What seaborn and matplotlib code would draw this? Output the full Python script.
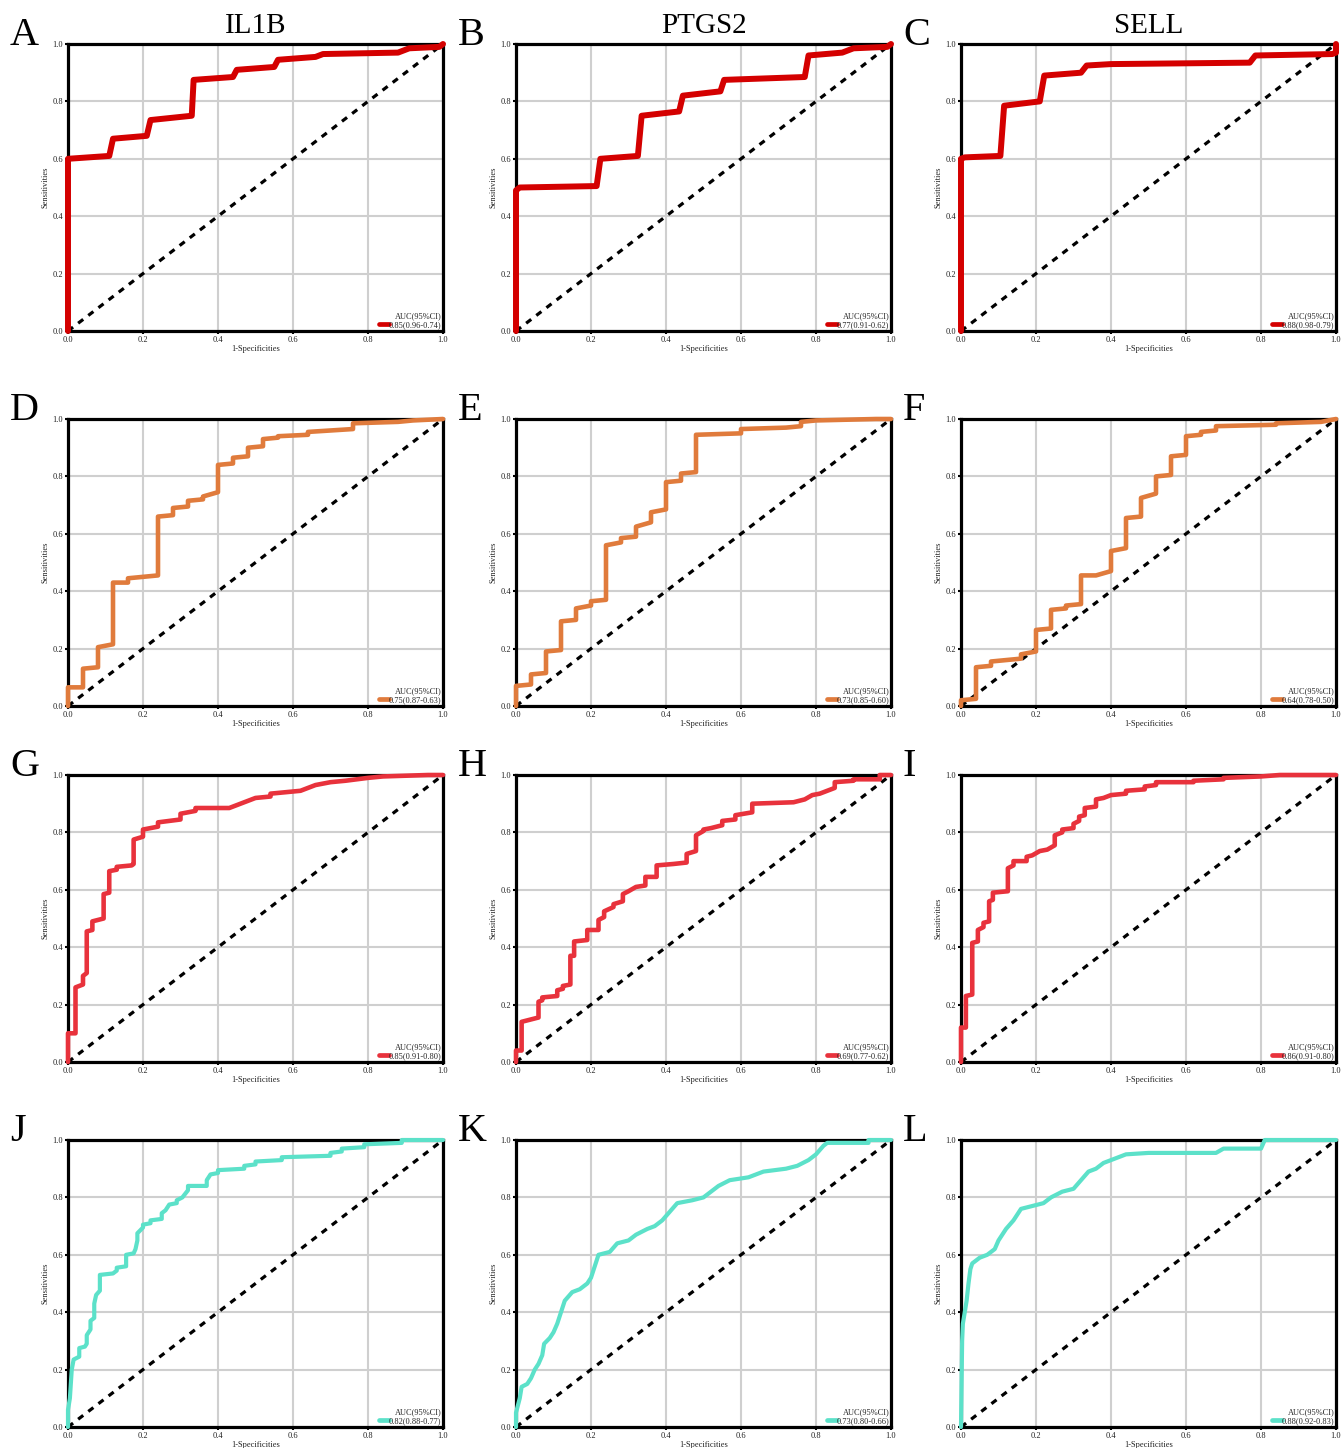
import matplotlib
matplotlib.use("Agg")
import matplotlib.pyplot as plt
from matplotlib.lines import Line2D
import seaborn as sns

# ---------------- data ----------------
genes = ["IL1B", "PTGS2", "SELL"]
panel_letters = ["A", "B", "C", "D", "E", "F", "G", "H", "I", "J", "K", "L"]
auc_labels = ["0.85(0.96-0.74)", "0.77(0.91-0.62)", "0.88(0.98-0.79)",
              "0.75(0.87-0.63)", "0.73(0.85-0.60)", "0.64(0.78-0.50)",
              "0.85(0.91-0.80)", "0.69(0.77-0.62)", "0.86(0.91-0.80)",
              "0.82(0.88-0.77)", "0.73(0.80-0.66)", "0.88(0.92-0.83)"]
row_colors = ["#d40000", "#e07b3c", "#e8323c", "#5ce1c9"]
row_linewidths = [4.3, 3.3, 3.3, 3.0]
tick_values = [0.0, 0.2, 0.4, 0.6, 0.8, 1.0]
tick_labels = ["0.0", "0.2", "0.4", "0.6", "0.8", "1.0"]
diag = [0.0, 1.0]

roc_A = [(0, 0), (0, 0.60), (0.11, 0.61), (0.12, 0.67), (0.21, 0.68), (0.22, 0.735),
         (0.33, 0.75), (0.335, 0.875), (0.44, 0.885), (0.45, 0.91), (0.55, 0.92),
         (0.56, 0.945), (0.66, 0.955), (0.68, 0.965), (0.88, 0.97), (0.91, 0.985),
         (0.99, 0.99), (1.0, 1.0)]
roc_B = [(0, 0), (0, 0.49), (0.01, 0.50), (0.215, 0.505), (0.225, 0.60), (0.325, 0.61),
         (0.335, 0.75), (0.435, 0.765), (0.445, 0.82), (0.545, 0.835), (0.555, 0.875),
         (0.77, 0.885), (0.78, 0.96), (0.87, 0.97), (0.90, 0.985), (0.99, 0.99), (1.0, 1.0)]
roc_C = [(0, 0), (0, 0.60), (0.01, 0.605), (0.105, 0.61), (0.115, 0.785), (0.21, 0.80),
         (0.222, 0.89), (0.32, 0.90), (0.335, 0.925), (0.40, 0.93), (0.77, 0.935),
         (0.785, 0.96), (0.99, 0.965), (1.0, 0.97), (1.0, 1.0)]
roc_D = [(0, 0), (0, 0.065), (0.04, 0.065), (0.04, 0.13), (0.08, 0.135), (0.08, 0.205),
         (0.12, 0.215), (0.12, 0.43), (0.16, 0.43), (0.16, 0.445), (0.24, 0.455), (0.24, 0.66),
         (0.28, 0.665), (0.28, 0.69), (0.32, 0.695), (0.32, 0.715), (0.36, 0.72), (0.36, 0.73),
         (0.40, 0.745), (0.40, 0.84), (0.44, 0.845), (0.44, 0.865), (0.48, 0.87), (0.48, 0.90),
         (0.52, 0.905), (0.52, 0.93), (0.56, 0.935), (0.56, 0.94), (0.64, 0.945), (0.64, 0.955),
         (0.76, 0.965), (0.76, 0.985), (0.88, 0.99), (0.92, 0.995), (1.0, 1.0)]
roc_E = [(0, 0), (0, 0.07), (0.04, 0.075), (0.04, 0.11), (0.08, 0.115), (0.08, 0.19),
         (0.12, 0.195), (0.12, 0.295), (0.16, 0.30), (0.16, 0.34), (0.20, 0.35), (0.20, 0.365),
         (0.24, 0.37), (0.24, 0.56), (0.28, 0.57), (0.28, 0.585), (0.32, 0.59), (0.32, 0.625),
         (0.36, 0.64), (0.36, 0.675), (0.40, 0.685), (0.40, 0.78), (0.44, 0.785), (0.44, 0.81),
         (0.48, 0.815), (0.48, 0.945), (0.60, 0.95), (0.60, 0.965), (0.72, 0.97), (0.76, 0.975),
         (0.76, 0.99), (0.80, 0.995), (0.96, 1.0), (1.0, 1.0)]
roc_F = [(0, 0), (0, 0.02), (0.04, 0.025), (0.04, 0.135), (0.08, 0.14), (0.08, 0.155),
         (0.16, 0.165), (0.16, 0.18), (0.20, 0.19), (0.20, 0.265), (0.24, 0.27), (0.24, 0.335),
         (0.28, 0.34), (0.28, 0.35), (0.32, 0.355), (0.32, 0.455), (0.36, 0.455), (0.40, 0.47),
         (0.40, 0.54), (0.44, 0.55), (0.44, 0.655), (0.48, 0.66), (0.48, 0.725), (0.52, 0.74),
         (0.52, 0.80), (0.56, 0.805), (0.56, 0.87), (0.60, 0.875), (0.60, 0.94), (0.64, 0.945),
         (0.64, 0.955), (0.68, 0.96), (0.68, 0.975), (0.84, 0.98), (0.84, 0.985), (0.96, 0.99),
         (1.0, 1.0)]
roc_G = [(0, 0), (0, 0.10), (0.02, 0.10), (0.02, 0.26), (0.04, 0.27), (0.04, 0.30),
         (0.05, 0.31), (0.05, 0.455), (0.065, 0.46), (0.065, 0.49), (0.095, 0.50), (0.095, 0.585),
         (0.11, 0.59), (0.11, 0.665), (0.13, 0.67), (0.13, 0.68), (0.17, 0.685), (0.175, 0.69),
         (0.175, 0.775), (0.2, 0.785), (0.2, 0.81), (0.24, 0.82), (0.24, 0.835), (0.30, 0.845),
         (0.30, 0.865), (0.34, 0.875), (0.34, 0.885), (0.43, 0.885), (0.46, 0.90), (0.48, 0.91),
         (0.50, 0.92), (0.54, 0.925), (0.54, 0.935), (0.58, 0.94), (0.62, 0.945), (0.64, 0.955),
         (0.66, 0.965), (0.70, 0.975), (0.74, 0.98), (0.80, 0.99), (0.84, 0.995), (0.96, 1.0),
         (1.0, 1.0)]
roc_H = [(0, 0), (0, 0.04), (0.015, 0.04), (0.015, 0.14), (0.06, 0.155), (0.06, 0.21),
         (0.07, 0.215), (0.07, 0.225), (0.11, 0.23), (0.11, 0.25), (0.125, 0.255), (0.125, 0.265),
         (0.145, 0.27), (0.145, 0.37), (0.155, 0.37), (0.155, 0.42), (0.19, 0.425), (0.19, 0.46),
         (0.22, 0.46), (0.22, 0.495), (0.235, 0.505), (0.235, 0.525), (0.26, 0.54), (0.26, 0.55),
         (0.285, 0.56), (0.285, 0.585), (0.30, 0.595), (0.32, 0.61), (0.345, 0.615), (0.345, 0.645),
         (0.375, 0.645), (0.375, 0.685), (0.42, 0.69), (0.455, 0.695), (0.455, 0.725), (0.48, 0.735),
         (0.48, 0.79), (0.50, 0.805), (0.50, 0.81), (0.52, 0.815), (0.55, 0.825), (0.55, 0.84),
         (0.585, 0.845), (0.585, 0.86), (0.63, 0.87), (0.63, 0.90), (0.74, 0.905), (0.77, 0.915),
         (0.79, 0.93), (0.81, 0.935), (0.83, 0.945), (0.85, 0.955), (0.85, 0.975), (0.90, 0.98),
         (0.90, 0.985), (0.97, 0.985), (0.97, 1.0), (1.0, 1.0)]
roc_I = [(0, 0), (0, 0.12), (0.013, 0.12), (0.013, 0.23), (0.03, 0.235), (0.03, 0.415),
         (0.045, 0.42), (0.045, 0.46), (0.06, 0.47), (0.06, 0.485), (0.075, 0.49), (0.075, 0.56),
         (0.085, 0.565), (0.085, 0.59), (0.125, 0.595), (0.125, 0.675), (0.14, 0.685), (0.14, 0.70),
         (0.175, 0.70), (0.175, 0.715), (0.19, 0.72), (0.21, 0.735), (0.23, 0.74), (0.25, 0.755),
         (0.25, 0.79), (0.27, 0.80), (0.27, 0.81), (0.30, 0.815), (0.30, 0.83), (0.315, 0.84),
         (0.315, 0.855), (0.33, 0.86), (0.33, 0.885), (0.36, 0.89), (0.36, 0.915), (0.38, 0.92),
         (0.40, 0.93), (0.44, 0.935), (0.44, 0.945), (0.49, 0.95), (0.49, 0.96), (0.52, 0.965),
         (0.52, 0.975), (0.62, 0.975), (0.62, 0.98), (0.70, 0.985), (0.70, 0.99), (0.80, 0.995),
         (0.85, 1.0), (1.0, 1.0)]
roc_J = [(0, 0), (0, 0.06), (0.005, 0.10), (0.01, 0.20), (0.015, 0.235), (0.03, 0.245),
         (0.03, 0.275), (0.045, 0.28), (0.05, 0.29), (0.05, 0.32), (0.06, 0.34), (0.06, 0.37),
         (0.07, 0.38), (0.07, 0.43), (0.075, 0.46), (0.085, 0.475), (0.085, 0.53), (0.12, 0.535),
         (0.13, 0.545), (0.13, 0.555), (0.155, 0.56), (0.155, 0.60), (0.175, 0.605), (0.18, 0.62),
         (0.185, 0.65), (0.185, 0.675), (0.20, 0.695), (0.20, 0.705), (0.22, 0.71), (0.22, 0.72),
         (0.25, 0.725), (0.25, 0.745), (0.26, 0.755), (0.27, 0.775), (0.29, 0.78), (0.29, 0.79),
         (0.305, 0.80), (0.32, 0.825), (0.32, 0.84), (0.37, 0.84), (0.37, 0.86), (0.38, 0.88),
         (0.40, 0.885), (0.40, 0.895), (0.47, 0.90), (0.47, 0.91), (0.50, 0.915), (0.50, 0.925),
         (0.57, 0.93), (0.57, 0.94), (0.70, 0.945), (0.70, 0.955), (0.73, 0.96), (0.73, 0.97),
         (0.79, 0.975), (0.79, 0.985), (0.89, 0.99), (0.89, 1.0), (1.0, 1.0)]
roc_K = [(0, 0), (0, 0.05), (0.01, 0.10), (0.015, 0.14), (0.03, 0.15), (0.04, 0.17),
         (0.05, 0.20), (0.06, 0.22), (0.07, 0.25), (0.075, 0.29), (0.09, 0.31), (0.10, 0.33),
         (0.11, 0.36), (0.12, 0.40), (0.13, 0.44), (0.15, 0.47), (0.17, 0.48), (0.19, 0.50),
         (0.20, 0.52), (0.21, 0.56), (0.22, 0.60), (0.25, 0.61), (0.27, 0.64), (0.30, 0.65),
         (0.32, 0.67), (0.35, 0.69), (0.37, 0.70), (0.39, 0.72), (0.41, 0.75), (0.43, 0.78),
         (0.47, 0.79), (0.50, 0.80), (0.52, 0.82), (0.54, 0.84), (0.57, 0.86), (0.62, 0.87),
         (0.66, 0.89), (0.72, 0.90), (0.75, 0.91), (0.78, 0.93), (0.80, 0.95), (0.82, 0.98),
         (0.83, 0.99), (0.94, 0.99), (0.94, 1.0), (1.0, 1.0)]
roc_L = [(0, 0), (0.003, 0.30), (0.005, 0.36), (0.01, 0.40), (0.015, 0.44), (0.02, 0.50),
         (0.025, 0.55), (0.03, 0.57), (0.05, 0.59), (0.07, 0.60), (0.09, 0.62), (0.10, 0.65),
         (0.12, 0.69), (0.14, 0.72), (0.16, 0.76), (0.19, 0.77), (0.22, 0.78), (0.24, 0.80),
         (0.27, 0.82), (0.30, 0.83), (0.32, 0.86), (0.34, 0.89), (0.36, 0.90), (0.38, 0.92),
         (0.40, 0.93), (0.42, 0.94), (0.44, 0.95), (0.50, 0.955), (0.68, 0.955), (0.70, 0.97),
         (0.80, 0.97), (0.81, 1.0), (1.0, 1.0)]

rocs = [roc_A, roc_B, roc_C, roc_D, roc_E, roc_F, roc_G, roc_H, roc_I, roc_J, roc_K, roc_L]

# ---------------- style ----------------
sns.set_theme(style="white")
plt.rcParams["font.family"] = ["Liberation Serif", "DejaVu Serif"]

W, H = 1343, 1448
fig = plt.figure(figsize=(W / 100, H / 100), dpi=100)

col_left = [68, 516, 961]
row_top = [44, 419, 775, 1140]
aw, ah = 375, 287
small = 6.0

for idx, pts in enumerate(rocs):
    r, c = divmod(idx, 3)
    left, top = col_left[c], row_top[r]
    ax = fig.add_axes([left / W, 1 - (top + ah) / H, aw / W, ah / H])
    ax.set_xlim(0, 1)
    ax.set_ylim(0, 1)
    ax.set_axisbelow(True)
    ax.grid(True, color="#cfcfcf", linewidth=1.5)

    ax.plot(diag, diag, color="black", linestyle=(0, (2.0, 2.0)), linewidth=2.3,
            zorder=2)
    xs = [p[0] for p in pts]
    ys = [p[1] for p in pts]
    sns.lineplot(x=xs, y=ys, sort=False, estimator=None, ax=ax,
                 color=row_colors[r], linewidth=row_linewidths[r], legend=False,
                 zorder=3, clip_on=False, solid_joinstyle="round",
                 solid_capstyle="round")

    for sp in ax.spines.values():
        sp.set_visible(True)
        sp.set_color("black")
        sp.set_linewidth(2.3)
        sp.set_zorder(2.5)

    ax.set_xticks(tick_values)
    ax.set_xticklabels(tick_labels)
    ax.set_yticks(tick_values)
    ax.set_yticklabels(tick_labels)
    ax.tick_params(axis="both", which="both", direction="out", length=2.0,
                   width=1.5, color="black", labelsize=small, pad=1.5,
                   bottom=True, left=True, labelcolor="#222222")
    ax.set_xlabel("1-Specificities", fontsize=small, labelpad=1.0, color="#222222")
    ax.set_ylabel("Sensitivities", fontsize=small, labelpad=2, color="#222222")

    handle = Line2D([], [], color=row_colors[r], linewidth=3.4)
    leg = ax.legend(handles=[handle], labels=[auc_labels[idx]], title="AUC(95%CI)",
                    loc="lower right", frameon=False, fontsize=small, title_fontsize=small,
                    handlelength=1.2, handletextpad=0.0, borderaxespad=0.1,
                    borderpad=0.1, labelspacing=0.1)
    leg._legend_box.align = "right"

    # panel letter
    fig.text((left - 58) / W, 1 - (top + 1) / H, panel_letters[idx], fontsize=29,
             ha="left", va="baseline", color="black")
    if r == 0:
        fig.text((left + aw / 2) / W, 1 - (top - 11) / H, genes[c], fontsize=21,
                 ha="center", va="baseline", color="black")

fig.savefig("out.png", dpi=100, facecolor="white")
